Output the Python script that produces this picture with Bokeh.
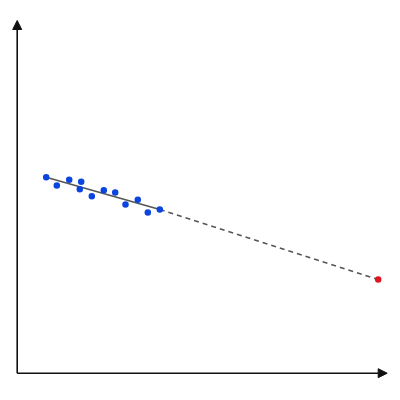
from bokeh.plotting import figure
from bokeh.models import Range1d, Arrow, NormalHead
from bokeh.embed import file_html
from bokeh.resources import INLINE

# observed points
obs_x = [29, 39.6, 52, 64, 62.6, 74.6, 86.6, 98, 108.3, 120.6, 130.6, 142.6]
obs_y = [196, 187.7, 193.4, 191.4, 184, 177, 183, 180.7, 168.7, 173.4, 160.7, 163.7]

# fitted line over the observed range
fit_x = [29, 142.6]
fit_y = [196, 163.7]

# extrapolated prediction
pred_x = [361]
pred_y = [93.7]

# axis extents
axis_x_max = 370
axis_y_max = 352.7

p = figure(width=390, height=390, output_backend="svg", toolbar_location=None,
           x_range=Range1d(-16.7, 373.3), y_range=Range1d(-17.3, 372.7),
           x_axis_location=None, y_axis_location=None, min_border=0)
p.grid.visible = False
p.outline_line_color = None

p.add_layout(Arrow(end=NormalHead(size=9, fill_color="#111111", line_color="#111111"),
                   x_start=0, y_start=0, x_end=axis_x_max, y_end=0,
                   line_color="#111111", line_width=1.6))
p.add_layout(Arrow(end=NormalHead(size=9, fill_color="#111111", line_color="#111111"),
                   x_start=0, y_start=0, x_end=0, y_end=axis_y_max,
                   line_color="#111111", line_width=1.6))

p.line(fit_x, fit_y, line_color="#555555", line_width=1.6)
p.line([fit_x[-1], pred_x[0]], [fit_y[-1], pred_y[0]], line_color="#555555",
       line_width=1.6, line_dash="5 4")

p.scatter(obs_x, obs_y, size=6.5, fill_color="#0a45e0", line_color=None)
p.scatter(pred_x, pred_y, size=6.5, fill_color="#e0141e", line_color=None)

open("out.html", "w").write(file_html(p, INLINE))
